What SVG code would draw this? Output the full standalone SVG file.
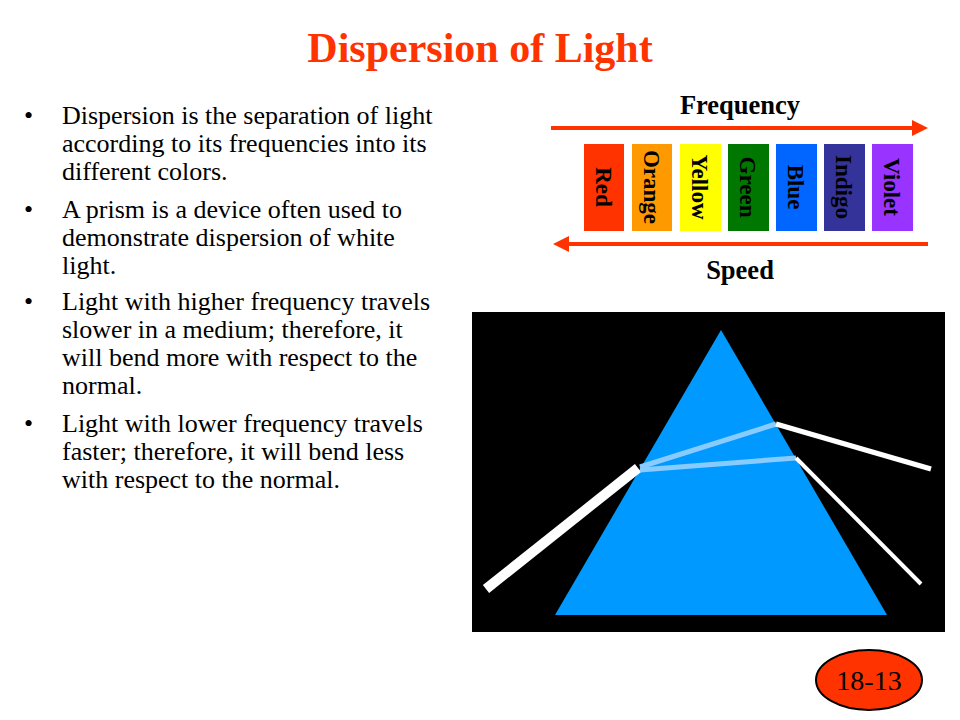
<svg xmlns="http://www.w3.org/2000/svg" width="960" height="720" viewBox="0 0 960 720">
<style>
.t{font-family:"Liberation Serif",serif;font-size:26px;fill:#000}
.b{font-family:"Liberation Serif",serif;font-weight:bold;font-size:23px;fill:#000}
.h{font-family:"Liberation Serif",serif;font-weight:bold;font-size:26.5px;fill:#000}
</style>
<defs>
<marker id="ah" markerWidth="4" markerHeight="4" refX="2" refY="2" orient="auto" markerUnits="strokeWidth"><path d="M0,0L4,2L0,4z" fill="#ff3300"/></marker>
</defs>
<rect width="960" height="720" fill="#fff"/>
<text x="480" y="62" text-anchor="middle" font-family="Liberation Serif,serif" font-weight="bold" font-size="42" fill="#ff3300">Dispersion of Light</text>
<g id="bullets" class="t">
<text x="24" y="124">•</text><text x="62" y="124" class="t">Dispersion is the separation of light</text>
<text x="62" y="152" class="t">according to its frequencies into its</text>
<text x="62" y="180" class="t">different colors.</text>
<text x="24" y="218">•</text><text x="62" y="218" class="t">A prism is a device often used to</text>
<text x="62" y="246" class="t">demonstrate dispersion of white</text>
<text x="62" y="274" class="t">light.</text>
<text x="24" y="310">•</text><text x="62" y="310" class="t">Light with higher frequency travels</text>
<text x="62" y="338" class="t">slower in a medium; therefore, it</text>
<text x="62" y="366" class="t">will bend more with respect to the</text>
<text x="62" y="394" class="t">normal.</text>
<text x="24" y="432">•</text><text x="62" y="432" class="t">Light with lower frequency travels</text>
<text x="62" y="460" class="t">faster; therefore, it will bend less</text>
<text x="62" y="488" class="t">with respect to the normal.</text>
</g>
<g id="spectrum">
<text x="740" y="114" text-anchor="middle" class="h">Frequency</text>
<text x="740" y="279" text-anchor="middle" class="h">Speed</text>
<g id="connectors">
<line x1="551" y1="128" x2="920" y2="128" stroke="#ff3300" stroke-width="4" marker-end="url(#ah)"/>
<line x1="928" y1="244" x2="561" y2="244" stroke="#ff3300" stroke-width="4" marker-end="url(#ah)"/>
</g>
<rect x="584" y="144" width="40" height="87" fill="#ff3300"/>
<rect x="632" y="144" width="40" height="87" fill="#ff9900"/>
<rect x="680" y="144" width="41" height="87" fill="#ffff00"/>
<rect x="728" y="144" width="41" height="87" fill="#007700"/>
<rect x="776" y="144" width="41" height="87" fill="#0066ff"/>
<rect x="824" y="144" width="41" height="87" fill="#333399"/>
<rect x="872" y="144" width="41" height="87" fill="#9933ff"/>
<g class="b">
<text transform="translate(596,187) rotate(90)" text-anchor="middle" class="b">Red</text>
<text transform="translate(644,187) rotate(90)" text-anchor="middle" class="b">Orange</text>
<text transform="translate(692,187) rotate(90)" text-anchor="middle" class="b">Yellow</text>
<text transform="translate(740,187) rotate(90)" text-anchor="middle" class="b">Green</text>
<text transform="translate(788,187) rotate(90)" text-anchor="middle" class="b">Blue</text>
<text transform="translate(836,187) rotate(90)" text-anchor="middle" class="b">Indigo</text>
<text transform="translate(884,187) rotate(90)" text-anchor="middle" class="b">Violet</text>
</g>
</g>
<g id="prism">
<rect x="472" y="312" width="473" height="320" fill="#000"/>
<polygon points="721,330 555,615 887,615" fill="#0099ff"/>
<line x1="486" y1="589" x2="638" y2="468" stroke="#fff" stroke-width="10"/>
<line x1="640" y1="467" x2="776" y2="424" stroke="#88ccff" stroke-width="5"/>
<line x1="640" y1="470" x2="796" y2="458" stroke="#88ccff" stroke-width="5"/>
<line x1="776" y1="424" x2="931" y2="469" stroke="#fff" stroke-width="5"/>
<line x1="796" y1="458" x2="921" y2="584" stroke="#fff" stroke-width="4"/>
</g>
<g id="badge">
<ellipse cx="869" cy="680" rx="53" ry="30" fill="#ff3300" stroke="#000" stroke-width="2"/>
<text x="869" y="690" text-anchor="middle" font-family="Liberation Serif,serif" font-size="28" fill="#000">18-13</text>
</g>
</svg>
